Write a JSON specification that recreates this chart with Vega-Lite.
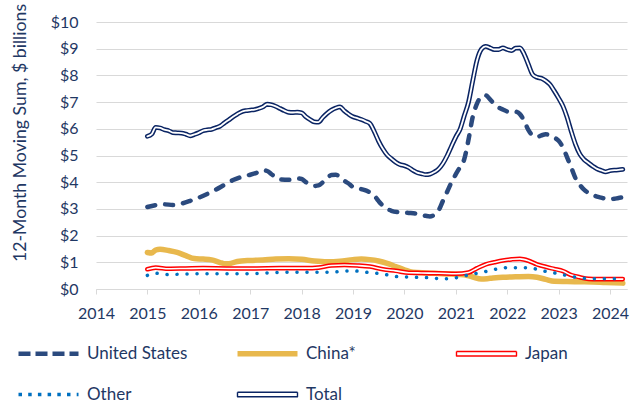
{
  "$schema": "https://vega.github.io/schema/vega-lite/v6.json",
  "width": 531,
  "height": 267,
  "autosize": {"type": "none"},
  "padding": {"left": 96, "top": 22, "right": 16, "bottom": 115},
  "background": "white",
  "config": {
    "font": "Lato",
    "view": {"stroke": null},
    "axis": {"labelFont": "Lato", "labelFontSize": 16, "labelColor": "#1F3864", "titleFont": "Lato", "titleColor": "#1F3864"},
    "line": {"interpolate": "monotone", "strokeCap": "round", "strokeJoin": "round"}
  },
  "data": {
    "values": [
      {"date": "2015-01-01", "series": "United States", "value": 3.07},
      {"date": "2015-03-01", "series": "United States", "value": 3.14},
      {"date": "2015-05-01", "series": "United States", "value": 3.17},
      {"date": "2015-07-01", "series": "United States", "value": 3.15},
      {"date": "2015-09-01", "series": "United States", "value": 3.2},
      {"date": "2015-11-01", "series": "United States", "value": 3.3},
      {"date": "2016-01-01", "series": "United States", "value": 3.42},
      {"date": "2016-03-01", "series": "United States", "value": 3.56},
      {"date": "2016-05-01", "series": "United States", "value": 3.72},
      {"date": "2016-07-01", "series": "United States", "value": 3.9},
      {"date": "2016-09-01", "series": "United States", "value": 4.08},
      {"date": "2016-11-01", "series": "United States", "value": 4.2},
      {"date": "2017-01-01", "series": "United States", "value": 4.28},
      {"date": "2017-03-01", "series": "United States", "value": 4.38},
      {"date": "2017-04-01", "series": "United States", "value": 4.45},
      {"date": "2017-05-01", "series": "United States", "value": 4.42},
      {"date": "2017-06-01", "series": "United States", "value": 4.3},
      {"date": "2017-07-01", "series": "United States", "value": 4.18},
      {"date": "2017-08-01", "series": "United States", "value": 4.1},
      {"date": "2017-10-01", "series": "United States", "value": 4.09},
      {"date": "2017-12-01", "series": "United States", "value": 4.14},
      {"date": "2018-01-01", "series": "United States", "value": 4.12},
      {"date": "2018-02-01", "series": "United States", "value": 4.0},
      {"date": "2018-03-01", "series": "United States", "value": 3.94},
      {"date": "2018-04-01", "series": "United States", "value": 3.86},
      {"date": "2018-05-01", "series": "United States", "value": 3.88},
      {"date": "2018-06-01", "series": "United States", "value": 4.0},
      {"date": "2018-07-01", "series": "United States", "value": 4.15},
      {"date": "2018-08-01", "series": "United States", "value": 4.27},
      {"date": "2018-09-01", "series": "United States", "value": 4.28},
      {"date": "2018-10-01", "series": "United States", "value": 4.2},
      {"date": "2018-11-01", "series": "United States", "value": 4.05},
      {"date": "2018-12-01", "series": "United States", "value": 3.95},
      {"date": "2019-01-01", "series": "United States", "value": 3.82},
      {"date": "2019-03-01", "series": "United States", "value": 3.74},
      {"date": "2019-05-01", "series": "United States", "value": 3.62},
      {"date": "2019-06-01", "series": "United States", "value": 3.5},
      {"date": "2019-07-01", "series": "United States", "value": 3.3},
      {"date": "2019-08-01", "series": "United States", "value": 3.12},
      {"date": "2019-09-01", "series": "United States", "value": 3.0},
      {"date": "2019-10-01", "series": "United States", "value": 2.93},
      {"date": "2019-12-01", "series": "United States", "value": 2.87},
      {"date": "2020-02-01", "series": "United States", "value": 2.85},
      {"date": "2020-04-01", "series": "United States", "value": 2.82},
      {"date": "2020-06-01", "series": "United States", "value": 2.74},
      {"date": "2020-07-01", "series": "United States", "value": 2.72},
      {"date": "2020-08-01", "series": "United States", "value": 2.78},
      {"date": "2020-09-01", "series": "United States", "value": 2.95},
      {"date": "2020-10-01", "series": "United States", "value": 3.3},
      {"date": "2020-11-01", "series": "United States", "value": 3.65},
      {"date": "2020-12-01", "series": "United States", "value": 4.0},
      {"date": "2021-01-01", "series": "United States", "value": 4.3},
      {"date": "2021-02-01", "series": "United States", "value": 4.58},
      {"date": "2021-03-01", "series": "United States", "value": 4.85},
      {"date": "2021-04-01", "series": "United States", "value": 5.6},
      {"date": "2021-05-01", "series": "United States", "value": 6.45},
      {"date": "2021-06-01", "series": "United States", "value": 6.95},
      {"date": "2021-07-01", "series": "United States", "value": 7.2},
      {"date": "2021-08-01", "series": "United States", "value": 7.25},
      {"date": "2021-09-01", "series": "United States", "value": 7.1},
      {"date": "2021-10-01", "series": "United States", "value": 6.93},
      {"date": "2021-11-01", "series": "United States", "value": 6.8},
      {"date": "2021-12-01", "series": "United States", "value": 6.72},
      {"date": "2022-01-01", "series": "United States", "value": 6.65},
      {"date": "2022-02-01", "series": "United States", "value": 6.63},
      {"date": "2022-03-01", "series": "United States", "value": 6.64},
      {"date": "2022-04-01", "series": "United States", "value": 6.55},
      {"date": "2022-05-01", "series": "United States", "value": 6.3},
      {"date": "2022-06-01", "series": "United States", "value": 5.95},
      {"date": "2022-07-01", "series": "United States", "value": 5.75},
      {"date": "2022-08-01", "series": "United States", "value": 5.7},
      {"date": "2022-09-01", "series": "United States", "value": 5.75},
      {"date": "2022-10-01", "series": "United States", "value": 5.8},
      {"date": "2022-11-01", "series": "United States", "value": 5.74},
      {"date": "2022-12-01", "series": "United States", "value": 5.67},
      {"date": "2023-01-01", "series": "United States", "value": 5.55},
      {"date": "2023-02-01", "series": "United States", "value": 5.3},
      {"date": "2023-03-01", "series": "United States", "value": 4.95},
      {"date": "2023-04-01", "series": "United States", "value": 4.55},
      {"date": "2023-05-01", "series": "United States", "value": 4.15},
      {"date": "2023-06-01", "series": "United States", "value": 3.9},
      {"date": "2023-07-01", "series": "United States", "value": 3.72},
      {"date": "2023-08-01", "series": "United States", "value": 3.6},
      {"date": "2023-09-01", "series": "United States", "value": 3.52},
      {"date": "2023-10-01", "series": "United States", "value": 3.46},
      {"date": "2023-11-01", "series": "United States", "value": 3.42},
      {"date": "2023-12-01", "series": "United States", "value": 3.38},
      {"date": "2024-01-01", "series": "United States", "value": 3.37},
      {"date": "2024-02-01", "series": "United States", "value": 3.38},
      {"date": "2024-03-01", "series": "United States", "value": 3.41},
      {"date": "2024-04-01", "series": "United States", "value": 3.43},

      {"date": "2015-01-01", "series": "China*", "value": 1.37},
      {"date": "2015-02-01", "series": "China*", "value": 1.35},
      {"date": "2015-03-01", "series": "China*", "value": 1.46},
      {"date": "2015-04-01", "series": "China*", "value": 1.49},
      {"date": "2015-06-01", "series": "China*", "value": 1.44},
      {"date": "2015-08-01", "series": "China*", "value": 1.37},
      {"date": "2015-10-01", "series": "China*", "value": 1.25},
      {"date": "2015-12-01", "series": "China*", "value": 1.14},
      {"date": "2016-02-01", "series": "China*", "value": 1.12},
      {"date": "2016-04-01", "series": "China*", "value": 1.09},
      {"date": "2016-06-01", "series": "China*", "value": 0.99},
      {"date": "2016-07-01", "series": "China*", "value": 0.95},
      {"date": "2016-08-01", "series": "China*", "value": 0.95},
      {"date": "2016-10-01", "series": "China*", "value": 1.03},
      {"date": "2017-01-01", "series": "China*", "value": 1.07},
      {"date": "2017-04-01", "series": "China*", "value": 1.09},
      {"date": "2017-07-01", "series": "China*", "value": 1.12},
      {"date": "2017-10-01", "series": "China*", "value": 1.13},
      {"date": "2018-01-01", "series": "China*", "value": 1.11},
      {"date": "2018-04-01", "series": "China*", "value": 1.05},
      {"date": "2018-07-01", "series": "China*", "value": 1.02},
      {"date": "2018-10-01", "series": "China*", "value": 1.04},
      {"date": "2019-01-01", "series": "China*", "value": 1.1},
      {"date": "2019-03-01", "series": "China*", "value": 1.12},
      {"date": "2019-05-01", "series": "China*", "value": 1.1},
      {"date": "2019-07-01", "series": "China*", "value": 1.05},
      {"date": "2019-09-01", "series": "China*", "value": 0.96},
      {"date": "2019-11-01", "series": "China*", "value": 0.84},
      {"date": "2020-01-01", "series": "China*", "value": 0.72},
      {"date": "2020-03-01", "series": "China*", "value": 0.63},
      {"date": "2020-06-01", "series": "China*", "value": 0.6},
      {"date": "2020-09-01", "series": "China*", "value": 0.58},
      {"date": "2020-12-01", "series": "China*", "value": 0.56},
      {"date": "2021-03-01", "series": "China*", "value": 0.53},
      {"date": "2021-05-01", "series": "China*", "value": 0.45},
      {"date": "2021-07-01", "series": "China*", "value": 0.37},
      {"date": "2021-09-01", "series": "China*", "value": 0.4},
      {"date": "2021-12-01", "series": "China*", "value": 0.44},
      {"date": "2022-03-01", "series": "China*", "value": 0.46},
      {"date": "2022-06-01", "series": "China*", "value": 0.47},
      {"date": "2022-08-01", "series": "China*", "value": 0.44},
      {"date": "2022-10-01", "series": "China*", "value": 0.36},
      {"date": "2022-12-01", "series": "China*", "value": 0.29},
      {"date": "2023-03-01", "series": "China*", "value": 0.28},
      {"date": "2023-06-01", "series": "China*", "value": 0.27},
      {"date": "2023-09-01", "series": "China*", "value": 0.26},
      {"date": "2023-12-01", "series": "China*", "value": 0.24},
      {"date": "2024-04-01", "series": "China*", "value": 0.22},

      {"date": "2015-01-01", "series": "Japan", "value": 0.74},
      {"date": "2015-03-01", "series": "Japan", "value": 0.8},
      {"date": "2015-06-01", "series": "Japan", "value": 0.76},
      {"date": "2015-10-01", "series": "Japan", "value": 0.77},
      {"date": "2016-02-01", "series": "Japan", "value": 0.78},
      {"date": "2016-08-01", "series": "Japan", "value": 0.77},
      {"date": "2017-02-01", "series": "Japan", "value": 0.77},
      {"date": "2017-08-01", "series": "Japan", "value": 0.78},
      {"date": "2018-02-01", "series": "Japan", "value": 0.78},
      {"date": "2018-05-01", "series": "Japan", "value": 0.8},
      {"date": "2018-08-01", "series": "Japan", "value": 0.88},
      {"date": "2018-11-01", "series": "Japan", "value": 0.9},
      {"date": "2019-02-01", "series": "Japan", "value": 0.88},
      {"date": "2019-05-01", "series": "Japan", "value": 0.84},
      {"date": "2019-08-01", "series": "Japan", "value": 0.74},
      {"date": "2019-11-01", "series": "Japan", "value": 0.68},
      {"date": "2020-02-01", "series": "Japan", "value": 0.61},
      {"date": "2020-05-01", "series": "Japan", "value": 0.6},
      {"date": "2020-09-01", "series": "Japan", "value": 0.59},
      {"date": "2021-01-01", "series": "Japan", "value": 0.57},
      {"date": "2021-04-01", "series": "Japan", "value": 0.62},
      {"date": "2021-06-01", "series": "Japan", "value": 0.78},
      {"date": "2021-08-01", "series": "Japan", "value": 0.92},
      {"date": "2021-10-01", "series": "Japan", "value": 1.0},
      {"date": "2021-12-01", "series": "Japan", "value": 1.07},
      {"date": "2022-02-01", "series": "Japan", "value": 1.11},
      {"date": "2022-04-01", "series": "Japan", "value": 1.13},
      {"date": "2022-06-01", "series": "Japan", "value": 1.06},
      {"date": "2022-08-01", "series": "Japan", "value": 0.92},
      {"date": "2022-10-01", "series": "Japan", "value": 0.83},
      {"date": "2022-12-01", "series": "Japan", "value": 0.75},
      {"date": "2023-02-01", "series": "Japan", "value": 0.67},
      {"date": "2023-04-01", "series": "Japan", "value": 0.52},
      {"date": "2023-06-01", "series": "Japan", "value": 0.44},
      {"date": "2023-08-01", "series": "Japan", "value": 0.38},
      {"date": "2023-10-01", "series": "Japan", "value": 0.37},
      {"date": "2024-01-01", "series": "Japan", "value": 0.37},
      {"date": "2024-04-01", "series": "Japan", "value": 0.37},

      {"date": "2015-01-01", "series": "Other", "value": 0.51},
      {"date": "2015-03-01", "series": "Other", "value": 0.59},
      {"date": "2015-06-01", "series": "Other", "value": 0.54},
      {"date": "2015-10-01", "series": "Other", "value": 0.56},
      {"date": "2016-02-01", "series": "Other", "value": 0.57},
      {"date": "2016-08-01", "series": "Other", "value": 0.57},
      {"date": "2017-02-01", "series": "Other", "value": 0.58},
      {"date": "2017-06-01", "series": "Other", "value": 0.61},
      {"date": "2017-10-01", "series": "Other", "value": 0.63},
      {"date": "2018-04-01", "series": "Other", "value": 0.63},
      {"date": "2018-08-01", "series": "Other", "value": 0.63},
      {"date": "2018-11-01", "series": "Other", "value": 0.67},
      {"date": "2019-01-01", "series": "Other", "value": 0.68},
      {"date": "2019-04-01", "series": "Other", "value": 0.63},
      {"date": "2019-08-01", "series": "Other", "value": 0.56},
      {"date": "2019-11-01", "series": "Other", "value": 0.47},
      {"date": "2020-03-01", "series": "Other", "value": 0.44},
      {"date": "2020-07-01", "series": "Other", "value": 0.42},
      {"date": "2020-10-01", "series": "Other", "value": 0.38},
      {"date": "2021-01-01", "series": "Other", "value": 0.42},
      {"date": "2021-03-01", "series": "Other", "value": 0.49},
      {"date": "2021-07-01", "series": "Other", "value": 0.62},
      {"date": "2021-11-01", "series": "Other", "value": 0.76},
      {"date": "2022-01-01", "series": "Other", "value": 0.8},
      {"date": "2022-06-01", "series": "Other", "value": 0.8},
      {"date": "2022-09-01", "series": "Other", "value": 0.69},
      {"date": "2023-01-01", "series": "Other", "value": 0.57},
      {"date": "2023-05-01", "series": "Other", "value": 0.44},
      {"date": "2023-10-01", "series": "Other", "value": 0.38},
      {"date": "2024-04-01", "series": "Other", "value": 0.38},

      {"date": "2015-01-01", "series": "Total", "value": 5.72},
      {"date": "2015-02-01", "series": "Total", "value": 5.8},
      {"date": "2015-03-01", "series": "Total", "value": 6.05},
      {"date": "2015-04-01", "series": "Total", "value": 6.03},
      {"date": "2015-05-01", "series": "Total", "value": 5.97},
      {"date": "2015-06-01", "series": "Total", "value": 5.93},
      {"date": "2015-07-01", "series": "Total", "value": 5.86},
      {"date": "2015-08-01", "series": "Total", "value": 5.85},
      {"date": "2015-09-01", "series": "Total", "value": 5.84},
      {"date": "2015-10-01", "series": "Total", "value": 5.8},
      {"date": "2015-11-01", "series": "Total", "value": 5.74},
      {"date": "2015-12-01", "series": "Total", "value": 5.79},
      {"date": "2016-01-01", "series": "Total", "value": 5.85},
      {"date": "2016-02-01", "series": "Total", "value": 5.93},
      {"date": "2016-03-01", "series": "Total", "value": 5.96},
      {"date": "2016-04-01", "series": "Total", "value": 5.98},
      {"date": "2016-05-01", "series": "Total", "value": 6.04},
      {"date": "2016-06-01", "series": "Total", "value": 6.1},
      {"date": "2016-07-01", "series": "Total", "value": 6.22},
      {"date": "2016-08-01", "series": "Total", "value": 6.33},
      {"date": "2016-09-01", "series": "Total", "value": 6.45},
      {"date": "2016-10-01", "series": "Total", "value": 6.55},
      {"date": "2016-11-01", "series": "Total", "value": 6.64},
      {"date": "2016-12-01", "series": "Total", "value": 6.68},
      {"date": "2017-01-01", "series": "Total", "value": 6.7},
      {"date": "2017-02-01", "series": "Total", "value": 6.72},
      {"date": "2017-03-01", "series": "Total", "value": 6.76},
      {"date": "2017-04-01", "series": "Total", "value": 6.82},
      {"date": "2017-05-01", "series": "Total", "value": 6.92},
      {"date": "2017-06-01", "series": "Total", "value": 6.9},
      {"date": "2017-07-01", "series": "Total", "value": 6.84},
      {"date": "2017-08-01", "series": "Total", "value": 6.76},
      {"date": "2017-09-01", "series": "Total", "value": 6.68},
      {"date": "2017-10-01", "series": "Total", "value": 6.62},
      {"date": "2017-11-01", "series": "Total", "value": 6.61},
      {"date": "2017-12-01", "series": "Total", "value": 6.62},
      {"date": "2018-01-01", "series": "Total", "value": 6.6},
      {"date": "2018-02-01", "series": "Total", "value": 6.45},
      {"date": "2018-03-01", "series": "Total", "value": 6.35},
      {"date": "2018-04-01", "series": "Total", "value": 6.26},
      {"date": "2018-05-01", "series": "Total", "value": 6.25},
      {"date": "2018-06-01", "series": "Total", "value": 6.43},
      {"date": "2018-07-01", "series": "Total", "value": 6.58},
      {"date": "2018-08-01", "series": "Total", "value": 6.7},
      {"date": "2018-09-01", "series": "Total", "value": 6.78},
      {"date": "2018-10-01", "series": "Total", "value": 6.82},
      {"date": "2018-11-01", "series": "Total", "value": 6.67},
      {"date": "2018-12-01", "series": "Total", "value": 6.55},
      {"date": "2019-01-01", "series": "Total", "value": 6.45},
      {"date": "2019-02-01", "series": "Total", "value": 6.4},
      {"date": "2019-03-01", "series": "Total", "value": 6.35},
      {"date": "2019-04-01", "series": "Total", "value": 6.28},
      {"date": "2019-05-01", "series": "Total", "value": 6.2},
      {"date": "2019-06-01", "series": "Total", "value": 5.9},
      {"date": "2019-07-01", "series": "Total", "value": 5.55},
      {"date": "2019-08-01", "series": "Total", "value": 5.25},
      {"date": "2019-09-01", "series": "Total", "value": 5.02},
      {"date": "2019-10-01", "series": "Total", "value": 4.88},
      {"date": "2019-11-01", "series": "Total", "value": 4.75},
      {"date": "2019-12-01", "series": "Total", "value": 4.66},
      {"date": "2020-01-01", "series": "Total", "value": 4.62},
      {"date": "2020-02-01", "series": "Total", "value": 4.55},
      {"date": "2020-03-01", "series": "Total", "value": 4.45},
      {"date": "2020-04-01", "series": "Total", "value": 4.36},
      {"date": "2020-05-01", "series": "Total", "value": 4.32},
      {"date": "2020-06-01", "series": "Total", "value": 4.28},
      {"date": "2020-07-01", "series": "Total", "value": 4.3},
      {"date": "2020-08-01", "series": "Total", "value": 4.38},
      {"date": "2020-09-01", "series": "Total", "value": 4.5},
      {"date": "2020-10-01", "series": "Total", "value": 4.7},
      {"date": "2020-11-01", "series": "Total", "value": 5.0},
      {"date": "2020-12-01", "series": "Total", "value": 5.35},
      {"date": "2021-01-01", "series": "Total", "value": 5.7},
      {"date": "2021-02-01", "series": "Total", "value": 6.0},
      {"date": "2021-03-01", "series": "Total", "value": 6.48},
      {"date": "2021-04-01", "series": "Total", "value": 7.0},
      {"date": "2021-05-01", "series": "Total", "value": 7.8},
      {"date": "2021-06-01", "series": "Total", "value": 8.58},
      {"date": "2021-07-01", "series": "Total", "value": 8.98},
      {"date": "2021-08-01", "series": "Total", "value": 9.09},
      {"date": "2021-09-01", "series": "Total", "value": 9.03},
      {"date": "2021-10-01", "series": "Total", "value": 8.97},
      {"date": "2021-11-01", "series": "Total", "value": 8.97},
      {"date": "2021-12-01", "series": "Total", "value": 9.03},
      {"date": "2022-01-01", "series": "Total", "value": 8.97},
      {"date": "2022-02-01", "series": "Total", "value": 8.93},
      {"date": "2022-03-01", "series": "Total", "value": 9.02},
      {"date": "2022-04-01", "series": "Total", "value": 9.03},
      {"date": "2022-05-01", "series": "Total", "value": 8.8},
      {"date": "2022-06-01", "series": "Total", "value": 8.4},
      {"date": "2022-07-01", "series": "Total", "value": 8.03},
      {"date": "2022-08-01", "series": "Total", "value": 7.93},
      {"date": "2022-09-01", "series": "Total", "value": 7.89},
      {"date": "2022-10-01", "series": "Total", "value": 7.8},
      {"date": "2022-11-01", "series": "Total", "value": 7.66},
      {"date": "2022-12-01", "series": "Total", "value": 7.42},
      {"date": "2023-01-01", "series": "Total", "value": 7.15},
      {"date": "2023-02-01", "series": "Total", "value": 6.85},
      {"date": "2023-03-01", "series": "Total", "value": 6.45},
      {"date": "2023-04-01", "series": "Total", "value": 5.9},
      {"date": "2023-05-01", "series": "Total", "value": 5.42},
      {"date": "2023-06-01", "series": "Total", "value": 5.05},
      {"date": "2023-07-01", "series": "Total", "value": 4.85},
      {"date": "2023-08-01", "series": "Total", "value": 4.72},
      {"date": "2023-09-01", "series": "Total", "value": 4.6},
      {"date": "2023-10-01", "series": "Total", "value": 4.5},
      {"date": "2023-11-01", "series": "Total", "value": 4.44},
      {"date": "2023-12-01", "series": "Total", "value": 4.39},
      {"date": "2024-01-01", "series": "Total", "value": 4.43},
      {"date": "2024-02-01", "series": "Total", "value": 4.45},
      {"date": "2024-03-01", "series": "Total", "value": 4.46},
      {"date": "2024-04-01", "series": "Total", "value": 4.48}
    ]
  },
  "encoding": {
    "x": {
      "field": "date", "type": "temporal",
      "scale": {"type": "utc", "domain": [{"year": 2014, "month": 1, "date": 1, "utc": true}, {"year": 2024, "month": 5, "date": 1, "utc": true}]},
      "axis": {"title": null, "format": "%Y", "tickCount": {"interval": "year", "step": 1}, "grid": false, "domainColor": "#D9D9D9", "domainWidth": 1, "tickColor": "#D9D9D9", "tickSize": 5, "labelPadding": 11, "labelAngle": 0, "labelFlush": false, "labelOverlap": false}
    },
    "y": {
      "field": "value", "type": "quantitative",
      "scale": {"domain": [0, 10], "nice": false, "zero": true},
      "axis": {"values": [0, 1, 2, 3, 4, 5, 6, 7, 8, 9, 10], "labelExpr": "'$' + datum.value", "grid": true, "gridColor": "#D9D9D9", "gridWidth": 1, "domain": false, "ticks": false, "tickSize": 0, "labelPadding": 18, "title": "12-Month Moving Sum, $ billions", "titleFontSize": 17.7, "titleFontWeight": "normal", "titleAngle": -90, "titleX": -76, "titleY": 110.5, "titleBaseline": "middle", "titleAlign": "center"}
    },
    "color": {
      "field": "series", "type": "nominal",
      "scale": {"domain": ["United States", "China*", "Japan", "Other", "Total"], "range": ["#2B4A7E", "#E8B84D", "#FF0000", "#0070C0", "#0A2463"]},
      "legend": null
    }
  },
  "layer": [
    {
      "transform": [{"filter": {"field": "series", "equal": "United States"}}],
      "mark": {"type": "line", "strokeWidth": 4.5, "strokeDash": [8, 10]},
      "encoding": {
        "color": {
          "field": "series", "type": "nominal",
          "legend": {
            "orient": "none", "legendX": -80, "legendY": 299, "columns": 3, "direction": "horizontal", "title": null,
            "symbolSize": 3600, "labelFontSize": 17, "labelFont": "Lato", "labelColor": "#1F3864",
            "gridAlign": "all", "columnPadding": 46, "rowPadding": -38.2, "labelOffset": 6, "labelLimit": 300, "padding": 0,
            "symbolType": {"expr": "(datum.value === 'Japan' || datum.value === 'Total' ? 'M-1,-0.075H1V0.075H-1Z' : 'stroke')"},
            "symbolFillColor": {"expr": "(datum.value === 'Japan' || datum.value === 'Total' ? '#ffffff' : 'transparent')"},
            "symbolStrokeWidth": {"expr": "(datum.value === 'Japan' || datum.value === 'Total' ? 1.4 : (datum.value === 'China*' ? 5.5 : (datum.value === 'Other' ? 3.5 : 4.5)))"},
            "symbolDash": {"expr": "(datum.value === 'United States' ? [12, 5] : (datum.value === 'Other' ? [3.5, 6.2] : [1, 0]))"},
            "symbolOpacity": 1
          }
        }
      }
    },
    {
      "transform": [{"filter": {"field": "series", "equal": "China*"}}],
      "mark": {"type": "line", "strokeWidth": 5.5}
    },
    {
      "transform": [{"filter": {"field": "series", "equal": "Japan"}}],
      "mark": {"type": "line", "strokeWidth": 4.6}
    },
    {
      "transform": [{"filter": {"field": "series", "equal": "Japan"}}],
      "mark": {"type": "line", "strokeWidth": 1.6},
      "encoding": {"color": {"value": "white"}}
    },
    {
      "transform": [{"filter": {"field": "series", "equal": "Other"}}],
      "mark": {"type": "line", "strokeWidth": 3.5, "strokeDash": [0.1, 9.9]}
    },
    {
      "transform": [{"filter": {"field": "series", "equal": "Total"}}],
      "mark": {"type": "line", "strokeWidth": 4.8}
    },
    {
      "transform": [{"filter": {"field": "series", "equal": "Total"}}],
      "mark": {"type": "line", "strokeWidth": 1.8},
      "encoding": {"color": {"value": "white"}}
    }
  ]
}
